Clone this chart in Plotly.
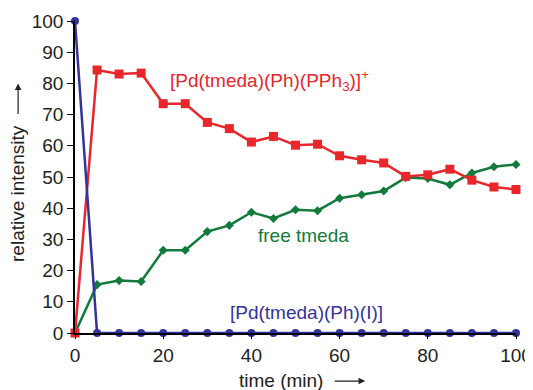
import plotly.graph_objects as go

time = [0, 5, 10, 15, 20, 25, 30, 35, 40, 45, 50, 55, 60, 65, 70, 75, 80, 85, 90, 95, 100]
pd_pph3 = [0, 84.3, 83.0, 83.3, 73.5, 73.5, 67.5, 65.5, 61.2, 63.0, 60.2, 60.5, 56.8, 55.5, 54.5, 50.2, 50.7, 52.5, 49.0, 46.8, 46.0]
free_tmeda = [0, 15.5, 16.8, 16.5, 26.5, 26.5, 32.5, 34.5, 38.7, 36.7, 39.5, 39.2, 43.2, 44.3, 45.5, 49.8, 49.5, 47.5, 51.3, 53.3, 54.0]
pd_i = [100, 0, 0, 0, 0, 0, 0, 0, 0, 0, 0, 0, 0, 0, 0, 0, 0, 0, 0, 0, 0]
x_ticks = [0, 20, 40, 60, 80, 100]
y_ticks = [0, 10, 20, 30, 40, 50, 60, 70, 80, 90, 100]

RED = "#e8262b"
GREEN = "#117a3c"
BLUE = "#33339c"
TXT = "#222222"
FONT = "Liberation Sans, Arial, sans-serif"
FS = 19

fig = go.Figure()
fig.add_trace(go.Scatter(x=time, y=free_tmeda, mode="lines+markers",
                         line=dict(color=GREEN, width=2.5),
                         marker=dict(symbol="diamond", size=7, color=GREEN),
                         cliponaxis=False, showlegend=False))
fig.add_trace(go.Scatter(x=time, y=pd_pph3, mode="lines+markers",
                         line=dict(color=RED, width=2.5),
                         marker=dict(symbol="square", size=9, color=RED),
                         cliponaxis=False, showlegend=False))
fig.add_trace(go.Scatter(x=time, y=pd_i, mode="lines+markers",
                         line=dict(color=BLUE, width=2.5),
                         marker=dict(symbol="circle", size=8, color=BLUE),
                         cliponaxis=False, showlegend=False))

fig.add_annotation(x=44.0, y=80.8, text="[Pd(tmeda)(Ph)(PPh<sub>3</sub>)]<sup>+</sup>",
                   showarrow=False, font=dict(color=RED, size=FS, family=FONT))
fig.add_annotation(x=51.7, y=31.1, text="free tmeda",
                   showarrow=False, font=dict(color=GREEN, size=FS, family=FONT))
fig.add_annotation(x=52.5, y=6.7, text="[Pd(tmeda)(Ph)(I)]",
                   showarrow=False, font=dict(color=BLUE, size=FS, family=FONT))

# axis titles as annotations
fig.add_annotation(xref="paper", yref="paper", x=0.467, y=-0.151, text="time (min)",
                   xanchor="center", yanchor="middle",
                   showarrow=False, font=dict(color=TXT, size=FS, family=FONT))
fig.add_annotation(xref="paper", yref="paper", x=-0.129, y=0.446, text="relative intensity",
                   xanchor="center", yanchor="middle",
                   textangle=-90, showarrow=False, font=dict(color=TXT, size=FS, family=FONT))

# arrows next to axis titles
fig.add_annotation(xref="paper", yref="paper", x=0.658, y=-0.154, ax=-32, ay=0,
                   text="", showarrow=True, arrowhead=2, arrowsize=1.1, arrowwidth=1.2,
                   arrowcolor=TXT)
fig.add_annotation(xref="paper", yref="paper", x=-0.129, y=0.80, ax=0, ay=32,
                   text="", showarrow=True, arrowhead=2, arrowsize=1.1, arrowwidth=1.2,
                   arrowcolor=TXT)

# the page body adds an 8px offset; size the figure so the plot area lands where it should
fig.update_layout(
    width=525, height=382,
    margin=dict(l=67, r=17, t=13, b=57, autoexpand=False),
    paper_bgcolor="white", plot_bgcolor="white",
    font=dict(family=FONT, size=FS, color=TXT),
    xaxis=dict(range=[0, 100], tickvals=x_ticks, showgrid=False, zeroline=False,
               showline=True, linecolor="black", linewidth=1.5,
               ticks="outside", ticklen=4, tickcolor="black", automargin=False,
               tickfont=dict(size=FS, color=TXT)),
    yaxis=dict(range=[0, 100], tickvals=y_ticks, showgrid=False, zeroline=False,
               showline=True, linecolor="black", linewidth=1.5,
               ticks="outside", ticklen=6, tickcolor="black", automargin=False,
               tickfont=dict(size=FS, color=TXT)),
)

fig.write_html("out.html")
